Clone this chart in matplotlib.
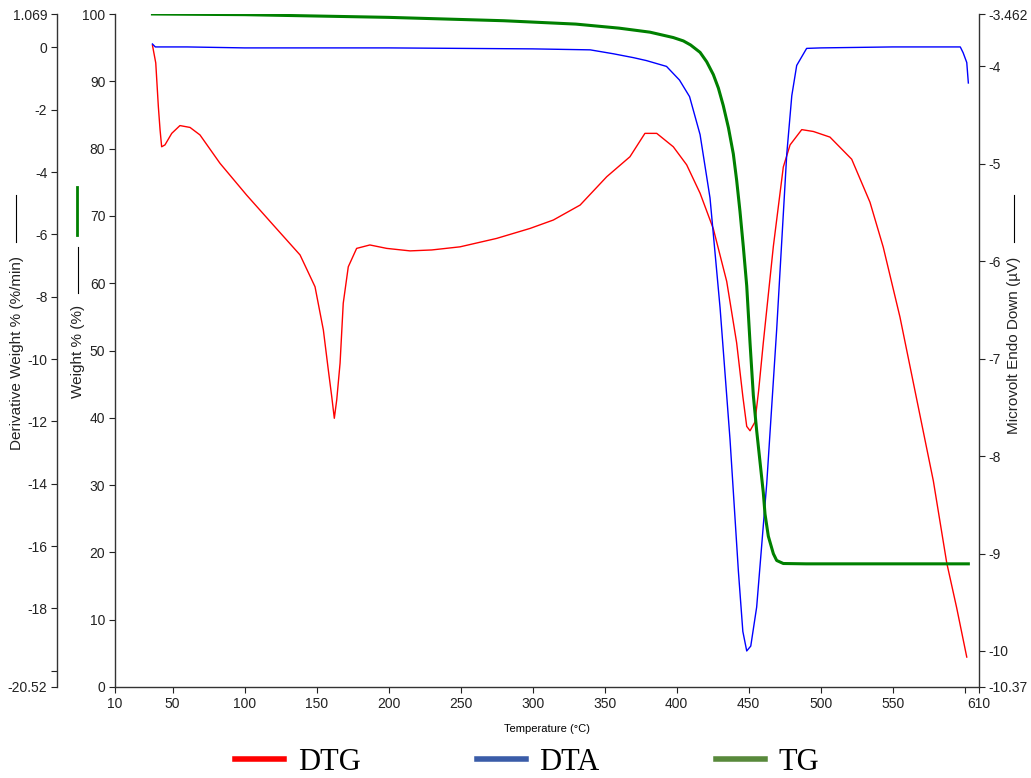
import numpy as np
import matplotlib
matplotlib.use("Agg")
import matplotlib.pyplot as plt
from matplotlib.lines import Line2D
from matplotlib import font_manager

# fonts
names = set(f.name for f in font_manager.fontManager.ttflist)
tick_font = 'Liberation Sans Narrow' if 'Liberation Sans Narrow' in names else 'Liberation Sans'
plt.rcParams['font.family'] = [tick_font, 'DejaVu Sans']

# DTG (derivative weight, %/min) - left outer axis
dtg_temp = [36.0, 38.3, 40.1, 41.3, 42.4, 44.7, 49.4, 55.1, 62.1, 69, 82.9, 101.4, 119.9, 138.5,
            148.9, 154.7, 158, 160.5, 162.3, 164, 166.3, 168.5, 172, 177.8, 187, 198.7, 214.9,
            230, 249.6, 275, 298.2, 314.4, 333, 351.5, 367.6, 378, 386.2, 397.7, 407, 416.3,
            425.5, 434.8, 441.7, 446, 448.7, 451, 454.4, 457, 460.2, 467.2, 474.1, 478.8, 486.9,
            495, 506.5, 521.6, 534.3, 543.5, 555.1, 566.7, 578.3, 587.6, 594.5, 601.5]
dtg_vals = [0.07, -0.5, -1.9, -2.65, -3.19, -3.13, -2.76, -2.51, -2.57, -2.81, -3.72, -4.74, -5.70, -6.66,
            -7.68, -9.07, -10.3, -11.2, -11.9, -11.3, -10.13, -8.21, -7.04, -6.45, -6.34, -6.45, -6.53,
            -6.50, -6.40, -6.13, -5.81, -5.54, -5.06, -4.15, -3.51, -2.76, -2.76, -3.19, -3.77, -4.68,
            -5.82, -7.51, -9.48, -11.2, -12.16, -12.30, -12.02, -11.0, -9.48, -6.38, -3.84, -3.13, -2.64,
            -2.70, -2.88, -3.59, -4.97, -6.41, -8.65, -11.28, -13.91, -16.54, -17.98, -19.56]

# DTA (microvolt, endo down) - right axis
dta_temp = [36, 38, 60, 100, 200, 300, 340, 356, 370, 379, 393, 402, 409, 416.3, 423.2, 430.2,
            437.1, 442.9, 446, 448.7, 451.5, 455.6, 462.6, 469.5, 476.5, 480, 483.4, 490.3, 500,
            550, 597, 599, 601.5, 602.6]
dta_vals = [-3.77, -3.80, -3.80, -3.81, -3.81, -3.82, -3.83, -3.87, -3.91, -3.94, -4.0, -4.14, -4.31,
            -4.70, -5.35, -6.48, -7.83, -9.18, -9.8, -10.0, -9.95, -9.55, -8.28, -6.70, -4.90, -4.3,
            -3.99, -3.815, -3.81, -3.80, -3.80, -3.86, -3.96, -4.17]

# TG (weight %) - host axis
tg_temp = [36, 100, 200, 280, 330, 360, 381.5, 397.7, 404.7, 409.7, 416.3, 420.9, 425.5, 429,
           432.4, 436, 439.4, 441.7, 444, 446.3, 448.7, 451, 453.3, 455.6, 457.9, 460.2, 461.4,
           463.7, 467.2, 469.5, 474.1, 490, 602.6]
tg_vals = [100, 99.9, 99.5, 99.0, 98.5, 97.9, 97.3, 96.5, 96.0, 95.4, 94.3, 92.9, 91.0, 89.0,
           86.4, 83.1, 79.2, 75.3, 70.7, 65.5, 59.6, 51.1, 43.3, 38.1, 33.5, 28.9, 25.7,
           22.4, 19.8, 18.8, 18.35, 18.3, 18.3]

x_ticks = [10, 50, 100, 150, 200, 250, 300, 350, 400, 450, 500, 550, 600, 610]
x_labels = ['10', '50', '100', '150', '200', '250', '300', '350', '400', '450', '500', '550', '', '610']
w_ticks = [0, 10, 20, 30, 40, 50, 60, 70, 80, 90, 100]
d_ticks = [1.069, 0, -2, -4, -6, -8, -10, -12, -14, -16, -18, -20, -20.52]
d_labels = ['1.069', '0', '-2', '-4', '-6', '-8', '-10', '-12', '-14', '-16', '-18', '', '-20.52']
m_ticks = [-3.462, -4, -5, -6, -7, -8, -9, -10, -10.37]
m_labels = ['-3.462', '-4', '-5', '-6', '-7', '-8', '-9', '-10', '-10.37']

fig = plt.figure(figsize=(10.31, 7.78), dpi=100)
ax = fig.add_axes([115/1031, 91/778, 864/1031, 673/778])
ax_d = ax.twinx()
ax_m = ax.twinx()

# DTG axis (outer left)
ax_d.plot(dtg_temp, dtg_vals, color='#ff0000', lw=1.0)
ax_d.set_ylim(-20.52, 1.069)
ax_d.spines['left'].set_position(('axes', -58/864))
ax_d.yaxis.set_ticks_position('left')
for s in ['top', 'right', 'bottom']:
    ax_d.spines[s].set_visible(False)
ax_d.set_yticks(d_ticks)
ax_d.set_yticklabels(d_labels)

# DTA axis (right)
ax_m.plot(dta_temp, dta_vals, color='#0000ff', lw=1.0)
ax_m.set_ylim(-10.37, -3.462)
for s in ['top', 'left', 'bottom']:
    ax_m.spines[s].set_visible(False)
ax_m.set_yticks(m_ticks)
ax_m.set_yticklabels(m_labels)

# TG on host axis, drawn on top
ax.plot(tg_temp, tg_vals, color='#008000', lw=2.2)
ax.set_zorder(ax_m.get_zorder() + 1)
ax.patch.set_visible(False)
ax.set_xlim(10, 610)
ax.set_ylim(0, 100)
ax.set_xticks(x_ticks)
ax.set_xticklabels(x_labels)
ax.set_yticks(w_ticks)
for s in ['top', 'right']:
    ax.spines[s].set_visible(False)

for a in [ax, ax_d, ax_m]:
    a.tick_params(labelsize=10, length=4, width=0.8, colors='#222222', pad=3)
    for s in a.spines.values():
        s.set_linewidth(1.0)
        s.set_color('#333333')

ax.set_xlabel('Temperature (°C)', fontsize=8, family='Liberation Sans')
ax.xaxis.set_label_coords(0.5, -0.0624)
ax.xaxis.label.set_va('center')

# rotated axis titles with their line markers
fig.text(17/1031, 1 - 353/778, 'Derivative Weight % (%/min)', rotation=90, ha='center', va='center',
         fontsize=11, family='Liberation Sans', color='#222222')
fig.add_artist(Line2D([16/1031, 16/1031], [1 - 195/778, 1 - 242/778], color='black', lw=0.8))
fig.text(78/1031, 1 - 351/778, 'Weight % (%)', rotation=90, ha='center', va='center',
         fontsize=11, family='Liberation Sans', color='#222222')
fig.add_artist(Line2D([78/1031, 78/1031], [1 - 247/778, 1 - 293/778], color='black', lw=0.8))
fig.add_artist(Line2D([77/1031, 77/1031], [1 - 187/778, 1 - 235/778], color='#008000', lw=2))
fig.text(1014/1031, 1 - 345/778, 'Microvolt Endo Down (µV)', rotation=90, ha='center', va='center',
         fontsize=11, family='Liberation Sans', color='#222222')
fig.add_artist(Line2D([1014/1031, 1014/1031], [1 - 195/778, 1 - 242/778], color='black', lw=0.8))

# legend
handles = [Line2D([], [], color='#ff0000', lw=4),
           Line2D([], [], color='#3a5ca8', lw=4),
           Line2D([], [], color='#58893b', lw=4)]
fig.legend(handles, ['DTG', 'DTA', 'TG'], loc='center', bbox_to_anchor=(527/1031, 1 - 762/778),
           ncol=3, frameon=False, prop={'family': 'Liberation Serif', 'size': 22},
           handlelength=1.6, handletextpad=0.45, columnspacing=3.8)

fig.savefig('out.png', dpi=100)
